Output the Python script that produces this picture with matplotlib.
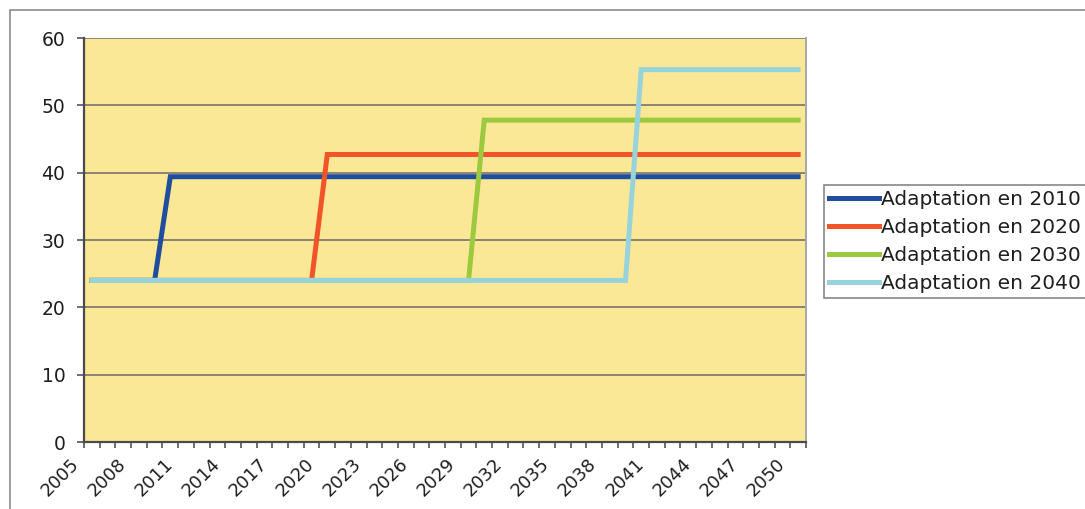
import matplotlib
matplotlib.use("Agg")
import matplotlib.pyplot as plt
import numpy as np
from matplotlib.patches import Rectangle
from matplotlib.transforms import ScaledTranslation

# one value per year, 2005 -> 2050
years = list(range(2005, 2051))
adapt_2010 = [24.0] * 5 + [39.4] * 41
adapt_2020 = [24.0] * 15 + [42.7] * 31
adapt_2030 = [24.0] * 25 + [47.8] * 21
adapt_2040 = [24.0] * 35 + [55.3] * 11

series = [adapt_2010, adapt_2020, adapt_2030, adapt_2040]
labels = ["Adaptation en 2010", "Adaptation en 2020",
          "Adaptation en 2030", "Adaptation en 2040"]
colors = ["#1f4e9e", "#f2542a", "#9cc93f", "#97d3dc"]

label_years = years[::3]

W, H = 1085, 509
fig = plt.figure(figsize=(W / 100, H / 100), dpi=100)
ax = fig.add_axes([84 / W, 1 - 442 / H, (806 - 84) / W, (442 - 38) / H])
ax.set_facecolor("#fbe896")

for vals, lab, col in zip(series, labels, colors):
    ax.plot(years, vals, color=col, lw=3.6, label=lab, solid_joinstyle="miter")

ax.set_xlim(2004.5, 2050.5)
ax.set_ylim(0, 60)
ax.set_yticks(range(0, 61, 10))
ax.yaxis.grid(True, color="#6a6a6a", lw=1.1)
ax.set_axisbelow(True)

# tick marks between the yearly categories, labels every third year
ax.set_xticks(np.arange(2004.5, 2051, 1.0), minor=True)
ax.set_xticks(label_years)
ax.set_xticklabels([str(y) for y in label_years], rotation=45, ha="right",
                   va="center", rotation_mode="anchor")
ax.tick_params(axis="x", which="major", length=0, pad=14, labelsize=13,
               labelcolor="#1e1e1e")
ax.tick_params(axis="x", which="minor", length=4, width=1.2, color="#555555")
ax.tick_params(axis="y", length=5, width=1.2, color="#555555", pad=8.5,
               labelsize=13.5, labelcolor="#1e1e1e")
shift = ScaledTranslation(-16 / 100, 0, fig.dpi_scale_trans)
for t in ax.get_xticklabels():
    t.set_transform(t.get_transform() + shift)

for side in ["left", "bottom"]:
    ax.spines[side].set_color("#4a4a4a")
    ax.spines[side].set_linewidth(1.6)
ax.spines["top"].set_visible(False)
ax.spines["right"].set_color("#a8a8a8")
ax.spines["right"].set_linewidth(1.4)

leg = fig.legend(loc="upper left", bbox_to_anchor=(824 / W, 1 - 185 / H),
                 fontsize=14.5, handlelength=2.5, handletextpad=0.1,
                 borderpad=0.25, labelspacing=0.45, borderaxespad=0,
                 fancybox=False, edgecolor="#888888", framealpha=1)
leg.get_frame().set_linewidth(1.2)
for t in leg.get_texts():
    t.set_color("#1e1e1e")

# outer chart frame
fig.add_artist(Rectangle((10 / W, -0.1), 1.2, 1 - 10 / H + 0.1,
                         transform=fig.transFigure, fill=False,
                         edgecolor="#8c8c8c", lw=1.2))

fig.savefig("out.png", dpi=100)
